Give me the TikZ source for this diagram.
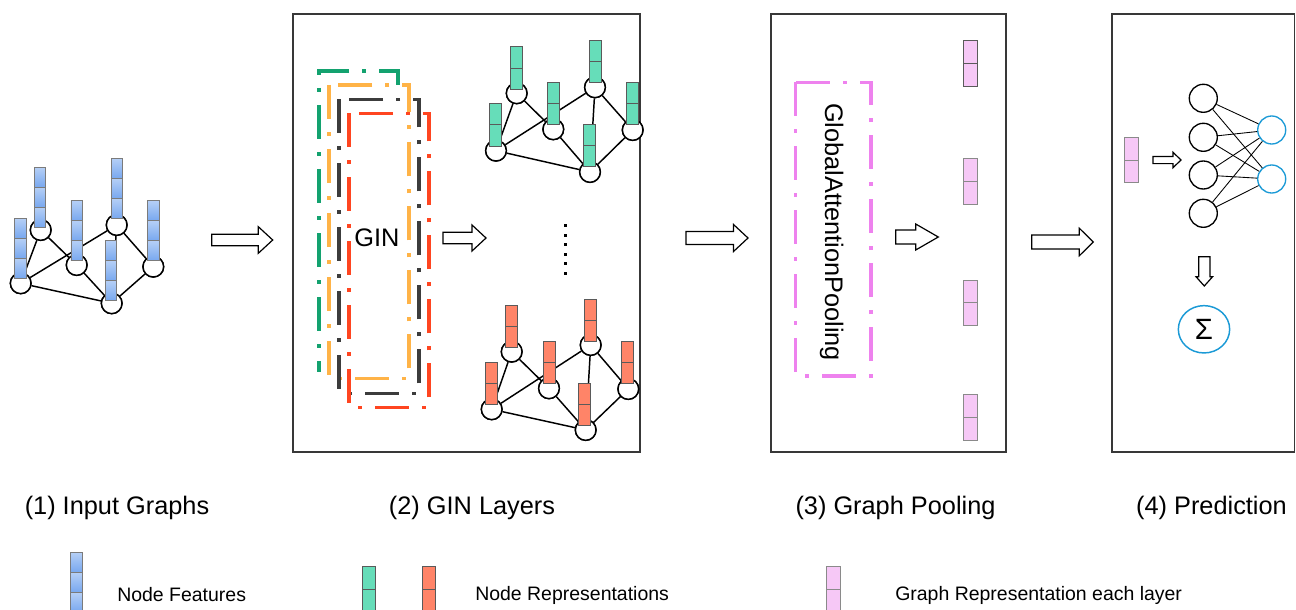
\documentclass[tikz,border=0pt]{standalone}
\usepackage{fontspec}
\setmainfont{Liberation Sans}
\usetikzlibrary{shapes.geometric}
\definecolor{boxc}{HTML}{383838}
\definecolor{greenD}{HTML}{13A26F}
\definecolor{orangeD}{HTML}{FFB347}
\definecolor{blackD}{HTML}{3C3C3C}
\definecolor{redD}{HTML}{FF4520}
\definecolor{pinkD}{HTML}{EE82EE}
\definecolor{blueT}{HTML}{B5CFF6}
\definecolor{blueB}{HTML}{78A8EF}
\definecolor{cellb}{HTML}{5A5A5A}
\definecolor{greenc}{HTML}{66DDB9}
\definecolor{orangec}{HTML}{FF8468}
\definecolor{pinkc}{HTML}{F6C8F6}
\definecolor{pinkb}{HTML}{8A8A8A}
\definecolor{nnblue}{HTML}{1B9AD6}
\newcommand\cellbar[6]{% cx, bottom, n, cell h, width, style
  \foreach \k in {1,...,#3}{\draw[#6] ({#1-#5/2},{#2-(\k-1)*#4}) rectangle ({#1+#5/2},{#2-\k*#4});}}
\newcommand\harrow[6]{% x1, x2, yc, shaft half, head half, head length
  \draw[blockarrow] (#1,{#3-#4}) -- ({#2-#6},{#3-#4}) -- ({#2-#6},{#3-#5}) -- (#2,#3) -- ({#2-#6},{#3+#5}) -- ({#2-#6},{#3+#4}) -- (#1,{#3+#4}) -- cycle;}
\newcommand\varrow[6]{% xc, y1, y2, shaft half, head half, head length
  \draw[blockarrow] ({#1-#4},#2) -- ({#1-#4},{#3-#6}) -- ({#1-#5},{#3-#6}) -- (#1,#3) -- ({#1+#5},{#3-#6}) -- ({#1+#4},{#3-#6}) -- ({#1+#4},#2) -- cycle;}
\begin{document}
\begin{tikzpicture}[x=0.75pt,y=-0.75pt,
  boxline/.style={draw=boxc, line width=1.3pt},
  gnode/.style={circle, draw=black, fill=white, line width=1.1pt, minimum size=15.5pt, inner sep=0pt},
  edge/.style={draw=black, line width=1.1pt},
  bluecell/.style={draw=cellb!80, line width=0.6pt, top color=blueT, bottom color=blueB},
  greencell/.style={draw=cellb, line width=0.6pt, fill=greenc},
  orangecell/.style={draw=cellb, line width=0.6pt, fill=orangec},
  pinkcell/.style={draw=pinkb, line width=0.6pt, fill=pinkc},
  pinkcelldark/.style={draw=cellb, line width=0.7pt, fill=pinkc},
  dd/.style={line width=2.6pt, dash pattern=on 25.5pt off 9.75pt on 3pt off 9.75pt},
  blockarrow/.style={draw=black, line width=0.9pt, fill=white, line join=miter},
  titletext/.style={font=\fontsize{19pt}{22pt}\selectfont, inner sep=0pt},
  legendtext/.style={font=\fontsize{14.6pt}{17pt}\selectfont, anchor=west, inner sep=0pt},
  nnode/.style={circle, draw=black, fill=white, line width=1pt, minimum size=21pt, inner sep=0pt},
  onode/.style={circle, draw=nnblue, fill=white, line width=1pt, minimum size=21pt, inner sep=0pt},
  nnedge/.style={draw=black, line width=0.65pt},
  dotsq/.style={fill=black, minimum size=2.3pt, inner sep=0pt}
]
\useasboundingbox (0,0) rectangle (1296,610);

% ---------- panel boxes ----------
\draw[boxline] (293,14) rectangle (640,452);
\draw[boxline] (771,14) rectangle (1006,452);
\draw[boxline] (1112,14) rectangle (1294.5,452);

% ---------- (1) input graph ----------
\node[gnode] (a1) at (20.7,283.3) {};
\node[gnode] (b1) at (40.7,230) {};
\node[gnode] (c1) at (76.7,265) {};
\node[gnode] (d1) at (116.7,225) {};
\node[gnode] (e1) at (111.7,303.3) {};
\node[gnode] (f1) at (153.3,266.7) {};
\draw[edge] (a1) -- (b1) (a1) -- (d1) (b1) -- (c1) (a1) -- (e1) (c1) -- (e1) (d1) -- (e1) (d1) -- (f1) (e1) -- (f1);
\foreach \n in {a1,b1,c1,d1,e1,f1}{\node[gnode] at (\n) {};}
\cellbar{20.5}{278.3}{3}{20}{11.5}{bluecell}
\cellbar{40}{227.3}{3}{20}{11.5}{bluecell}
\cellbar{76.7}{260.7}{3}{20}{11.5}{bluecell}
\cellbar{116.8}{218.3}{3}{20}{11.5}{bluecell}
\cellbar{110.8}{300.7}{3}{20}{11.5}{bluecell}
\cellbar{153.3}{260.7}{3}{20}{11.5}{bluecell}

\harrow{211.7}{272.7}{240}{5.8}{13.3}{14.4}

% ---------- (2) GIN layers ----------
\draw[dd, greenD] (398,86) -- (398,71) -- (319,71) -- (319,372);
\draw[dd, orangeD, fill=white] (329,85) rectangle (409,378.7);
\draw[dd, blackD] (339,99.3) rectangle (419,393.3);
\draw[dd, redD] (349,113.3) rectangle (429,407.3);
\node[titletext] (gin) at (377,237.5) {GIN};

\harrow{443}{486}{238}{5.8}{13}{14}

% green graph
\node[gnode] (a2) at (496,150.7) {};
\node[gnode] (b2) at (516.7,93.3) {};
\node[gnode] (c2) at (553.3,129.3) {};
\node[gnode] (d2) at (595,87.3) {};
\node[gnode] (e2) at (590,172) {};
\node[gnode] (f2) at (632.7,130) {};
\draw[edge] (a2) -- (b2) (a2) -- (d2) (b2) -- (c2) (a2) -- (e2) (c2) -- (e2) (d2) -- (e2) (d2) -- (f2) (e2) -- (f2);
\foreach \n in {a2,b2,c2,d2,e2,f2}{\node[gnode] at (\n) {};}
\cellbar{495.8}{146}{2}{21.3}{12}{greencell}
\cellbar{516.2}{89.3}{2}{21.3}{12}{greencell}
\cellbar{553.5}{124.7}{2}{21.3}{12}{greencell}
\cellbar{595.3}{82.7}{2}{21.3}{12}{greencell}
\cellbar{589.2}{166.7}{2}{21.3}{12}{greencell}
\cellbar{632.7}{124.7}{2}{21.3}{12}{greencell}

% dots
\foreach \i in {0,...,5}{\node[dotsq] (dot\i) at (565.7,{225.7+\i*9.47}) {};}

% orange graph
\node[gnode] (a3) at (491.7,409.3) {};
\node[gnode] (b3) at (511.7,351.7) {};
\node[gnode] (c3) at (549,388.3) {};
\node[gnode] (d3) at (590.7,345) {};
\node[gnode] (e3) at (585.7,430) {};
\node[gnode] (f3) at (628.3,389) {};
\draw[edge] (a3) -- (b3) (a3) -- (d3) (b3) -- (c3) (a3) -- (e3) (c3) -- (e3) (d3) -- (e3) (d3) -- (f3) (e3) -- (f3);
\foreach \n in {a3,b3,c3,d3,e3,f3}{\node[gnode] at (\n) {};}
\cellbar{491.5}{404.3}{2}{21}{12}{orangecell}
\cellbar{511.7}{347.7}{2}{21}{12}{orangecell}
\cellbar{549}{383}{2}{21}{12}{orangecell}
\cellbar{590.3}{341.7}{2}{21}{12}{orangecell}
\cellbar{584.3}{425.7}{2}{21}{12}{orangecell}
\cellbar{627.7}{383}{2}{21}{12}{orangecell}

\harrow{686}{748}{238}{6.5}{13.5}{14.5}

% ---------- (3) graph pooling ----------
\draw[dd, pinkD, line width=2.5pt] (795.7,82.3) rectangle (871,376);
\node[titletext, rotate=-90] (gap) at (831.7,232) {GlobalAttentionPooling};
\harrow{895.7}{938.3}{237}{7}{13}{22.6}
\cellbar{970.3}{86}{2}{22.7}{14}{pinkcelldark}
\cellbar{970.3}{204.3}{2}{23}{14}{pinkcell}
\cellbar{970.3}{325.3}{2}{22.7}{14}{pinkcell}
\cellbar{970.3}{440}{2}{22.9}{14}{pinkcell}

\harrow{1031.7}{1093.3}{242}{7}{13.8}{14}

% ---------- (4) prediction ----------
\cellbar{1131.2}{182.7}{2}{22.7}{14.3}{pinkcell}
\harrow{1153}{1181}{160}{3.6}{7.7}{8}
\node[nnode] (l1) at (1203.3,98.3) {};
\node[nnode] (l2) at (1203.3,137.3) {};
\node[nnode] (l3) at (1203.3,175) {};
\node[nnode] (l4) at (1203.3,213.3) {};
\node[onode] (o1) at (1271.7,130) {};
\node[onode] (o2) at (1271.7,179) {};
\foreach \l in {l1,l2,l3,l4}{\foreach \o in {o1,o2}{\draw[nnedge] (\l) -- (\o);}}
\varrow{1204.3}{256.7}{286}{5.6}{8.3}{9.3}
\node[ellipse, draw=nnblue, line width=1.1pt, minimum width=38.5pt, minimum height=35.5pt, inner sep=0pt,
      font=\fontsize{22pt}{24pt}\selectfont] (sum) at (1204,329.3) {Σ};

% ---------- titles ----------
\node[titletext] (t1) at (117,508) {(1) Input Graphs};
\node[titletext] (t2) at (472,508) {(2) GIN Layers};
\node[titletext] (t3) at (895.5,508) {(3) Graph Pooling};
\node[titletext] (t4) at (1211.5,508) {(4) Prediction};

% ---------- legend ----------
\cellbar{76.5}{612.3}{3}{20}{11.6}{bluecell}
\node[legendtext] (l-feat) at (117,595) {Node Features};
\cellbar{368.5}{612.6}{2}{23.3}{13}{greencell}
\cellbar{428.5}{612.6}{2}{23.3}{13}{orangecell}
\node[legendtext] (l-rep) at (475,595) {Node Representations};
\cellbar{833.3}{612.6}{2}{23.3}{14}{pinkcell}
\node[legendtext] (l-graph) at (895,595) {Graph Representation each layer};
\end{tikzpicture}
\end{document}
